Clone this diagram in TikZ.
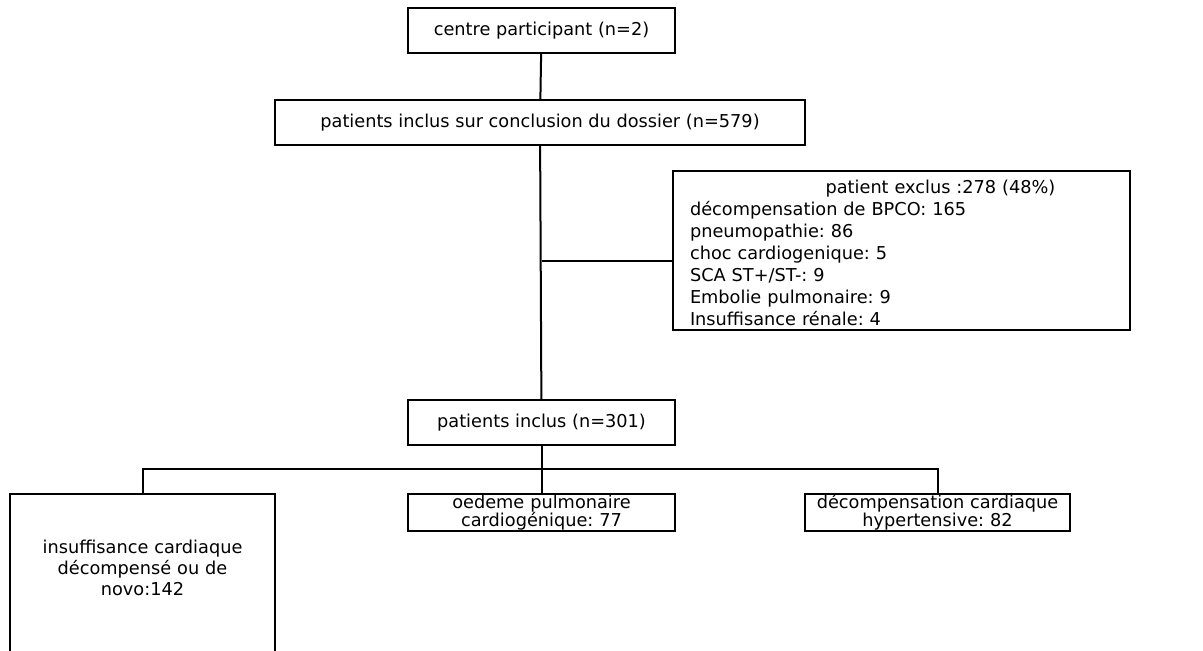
\documentclass[tikz,border=0pt]{standalone}
\usepackage{fontspec}
\setmainfont{DejaVu Sans}
\frenchspacing
\begin{document}
\begin{tikzpicture}[x=0.75pt,y=-0.75pt,line width=1.5pt,
  box/.style={draw,line width=1.5pt,inner sep=0pt,align=center,
    font=\fontsize{13.3}{13.5}\selectfont}]
\useasboundingbox (0,0) rectangle (1203,650);
\node[box,minimum width=200.25pt,minimum height=33.75pt] (centre) at (541.5,30.5) {centre participant (n=2)};
\node[box,minimum width=397.5pt,minimum height=33.75pt] (concl) at (540,122.5) {patients inclus sur conclusion du dossier (n=579)};
\node[box,text width=317.25pt,inner xsep=12.75pt,align=left,anchor=north,
  text height=16.5pt,text depth=102.75pt,
  font=\fontsize{13.3}{16.5}\selectfont] (exclus) at (901.5,170)
  {\makebox[\linewidth]{\hspace{58.5pt}patient exclus :278 (48\%)}\\
   décompensation de BPCO: 165\\
   pneumopathie: 86\\
   choc cardiogenique: 5\\
   SCA ST+/ST-: 9\\
   Embolie pulmonaire: 9\\
   Insuffisance rénale: 4};
\node[box,minimum width=200.25pt,minimum height=33.75pt] (inclus) at (541.5,422.5) {patients inclus (n=301)};
\node[box,text width=198.75pt,anchor=north,text height=44.25pt,text depth=81pt,
  font=\fontsize{13.3}{16}\selectfont] (left) at (142.5,493)
  {insuffisance cardiaque\\ décompensé ou de\\ novo:142};
\node[box,text width=200.25pt,anchor=north,text height=10.5pt,text depth=17.25pt] (middle) at (541.5,493) {oedeme pulmonaire\\ cardiogénique: 77};
\node[box,text width=198.75pt,anchor=north,text height=10.5pt,text depth=17.25pt] (right) at (937.5,493) {décompensation cardiaque\\ hypertensive: 82};
% connectors
\draw (centre) -- (concl);
\draw (concl) -- (inclus);
\coordinate (split) at (541.5,261);
\draw (split) -- (split -| exclus.west);
\coordinate (fork) at (541.5,469);
\draw (inclus) -- (fork);
\draw (left.north) |- (fork) -| (right.north);
\draw (fork) -- (middle);
\end{tikzpicture}
\end{document}
